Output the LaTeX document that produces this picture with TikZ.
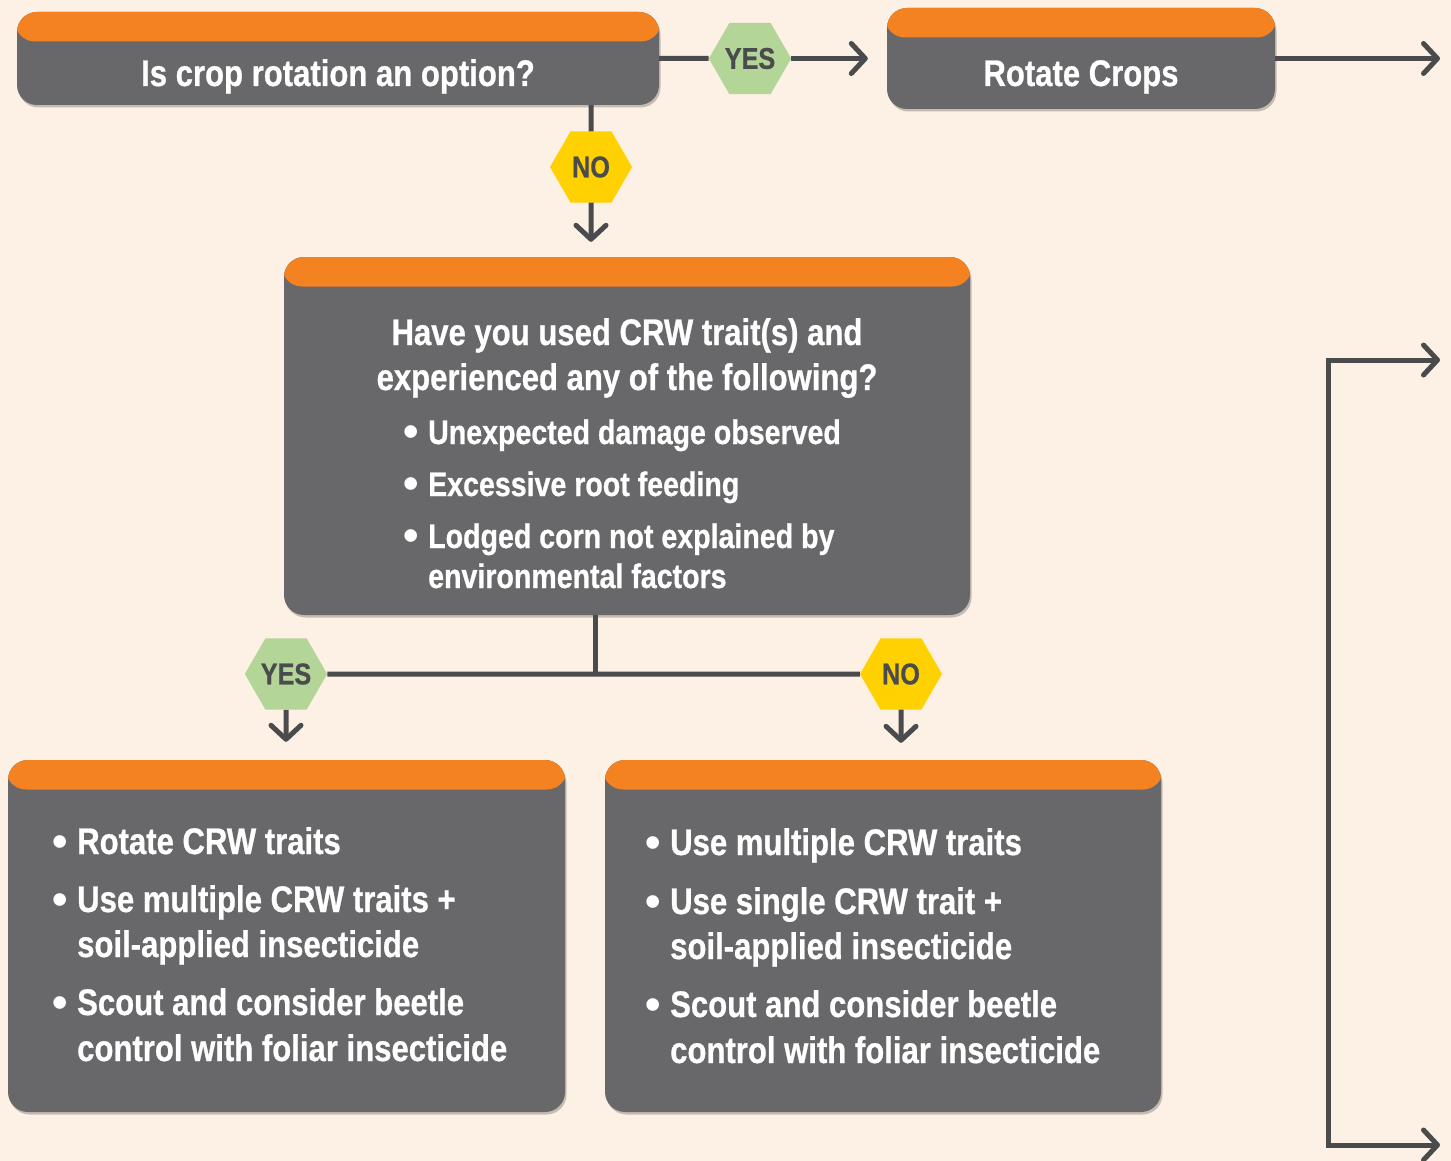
\documentclass[tikz,border=0pt]{standalone}
\usepackage{fontspec}
\setmainfont{Liberation Sans}[FakeStretch=0.84, BoldFeatures={FakeBold=0.7}]
\newfontfamily\bulfont{Liberation Sans}
\usetikzlibrary{shapes.geometric,arrows.meta,shadows}
\definecolor{bgc}{HTML}{FDF0E4}
\definecolor{orangeh}{HTML}{F48220}
\definecolor{boxgray}{HTML}{68686A}
\definecolor{linegray}{HTML}{4A4B4D}
\definecolor{hexgreen}{HTML}{B3D597}
\definecolor{hexyellow}{HTML}{FFD100}
\tikzset{
  flowbox/.style={rectangle, rounded corners=20pt, fill=boxgray, inner sep=0pt,
    drop shadow={shadow xshift=1.5pt, shadow yshift=-2.5pt, opacity=0.22, fill=black},
    path picture={\fill[orangeh] ([yshift=2pt,xshift=-2pt]path picture bounding box.north west)
      rectangle ([yshift=-29.5pt,xshift=2pt]path picture bounding box.north east);}},
  hexbase/.style={regular polygon, regular polygon sides=6, minimum size=82pt, inner sep=0pt,
    text=linegray, font=\bfseries\fontsize{30}{30}\selectfont},
  hexyes/.style={hexbase, fill=hexgreen},
  hexno/.style={hexbase, fill=hexyellow},
  txt/.style={text=white, inner sep=0pt, font=\bfseries\fontsize{37}{42}\selectfont},
  stxt/.style={txt, font=\bfseries\fontsize{34}{40}\selectfont},
  conn/.style={draw=linegray, line width=5pt},
  barb/.tip={Straight Barb[length=14pt, width=30pt, round]},
  arr/.style={conn, -barb},
}
\newcommand{\bul}{\llap{\raisebox{-2.5pt}{\bulfont\bfseries\fontsize{44}{44}\selectfont\textbullet}\hspace{9pt}}}
\begin{document}
\begin{tikzpicture}[x=1pt, y=-1pt]
\useasboundingbox (0,0) rectangle (1451,1161);
\fill[bgc] (0,0) rectangle (1451,1161);

% boxes
\node[flowbox, minimum width=642pt, minimum height=93pt] (b1) at (338,58.5) {};
\node[flowbox, minimum width=388pt, minimum height=101pt] (b2) at (1081,58.5) {};
\node[flowbox, minimum width=686pt, minimum height=358pt] (b3) at (627,436) {};
\node[flowbox, minimum width=557pt, minimum height=352pt] (b4) at (286.5,936) {};
\node[flowbox, minimum width=556pt, minimum height=352pt] (b5) at (883,936) {};

% hexagons
\node[hexyes] (yes1) at (750,58.5) {YES};
\node[hexno] (no1) at (591,167) {NO};
\node[hexyes] (yes2) at (286,674) {YES};
\node[hexno] (no2) at (901,674) {NO};

% coordinates
\coordinate (out1) at (1440,58.5);
\coordinate (j) at (595,674);
\coordinate (r1) at (1440,360);
\coordinate (c1) at (1328,360);
\coordinate (c2) at (1328,1145);
\coordinate (r2) at (1440,1145);

% connectors
\draw[conn] (b1.east) -- (yes1.west);
\draw[arr, shorten >=19pt] (yes1.east) -- (yes1.east -| b2.west);
\draw[arr] (b2.east) -- (out1);
\draw[conn] (b1.south -| no1) -- (no1.north);
\draw[arr, shorten >=15pt] (no1.south) -- (no1 |- b3.north);
\draw[conn] (b3.south -| j) -- (j);
\draw[conn] (yes2.east) -- (no2.west);
\draw[arr, shorten >=18pt] (yes2.south) -- (yes2 |- b4.north);
\draw[arr, shorten >=17pt] (no2.south) -- (no2 |- b5.north);
\draw[conn, barb-barb] (r1) -- (c1) -- (c2) -- (r2);

% texts
\node[txt, anchor=base] (t1) at (338,86) {Is crop rotation an option?};
\node[txt, anchor=base] (t2) at (1081,86) {Rotate Crops};

\node[txt, anchor=base] (t3a) at (627,345) {Have you used CRW trait(s) and};
\node[txt, anchor=base] (t3b) at (627,390) {experienced any of the following?};
\node[stxt, anchor=base west] (t3c) at (428,444) {\bul Unexpected damage observed};
\node[stxt, anchor=base west] (t3d) at (428,496) {\bul Excessive root feeding};
\node[stxt, anchor=base west] (t3e) at (428,548) {\bul Lodged corn not explained by};
\node[stxt, anchor=base west] (t3f) at (428,588) {environmental factors};

\node[txt, anchor=base west] (t4a) at (77,854) {\bul Rotate CRW traits};
\node[txt, anchor=base west] (t4b) at (77,912) {\bul Use multiple CRW traits +};
\node[txt, anchor=base west] (t4c) at (77,957) {soil-applied insecticide};
\node[txt, anchor=base west] (t4d) at (77,1015) {\bul Scout and consider beetle};
\node[txt, anchor=base west] (t4e) at (77,1061) {control with foliar insecticide};

\node[txt, anchor=base west] (t5a) at (670,855) {\bul Use multiple CRW traits};
\node[txt, anchor=base west] (t5b) at (670,914) {\bul Use single CRW trait +};
\node[txt, anchor=base west] (t5c) at (670,959) {soil-applied insecticide};
\node[txt, anchor=base west] (t5d) at (670,1017) {\bul Scout and consider beetle};
\node[txt, anchor=base west] (t5e) at (670,1063) {control with foliar insecticide};
\end{tikzpicture}
\end{document}
